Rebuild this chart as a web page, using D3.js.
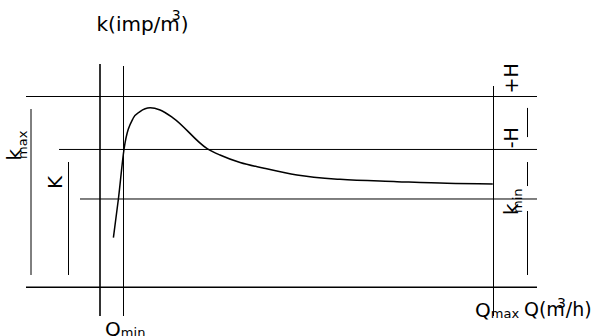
<!DOCTYPE html>
<html>
<head>
<meta charset="utf-8">
<script src="https://cdn.jsdelivr.net/npm/d3@7"></script>
<style>
 html,body{margin:0;padding:0;background:#fff;}
 svg{display:block;font-family:"DejaVu Sans",sans-serif;}
</style>
</head>
<body>
<svg id="chart" width="594" height="336"></svg>
<script>
// meter error curve: factor k against flow Q (schematic, arbitrary units)
const flow   = [0.58, 0.80, 1.04, 1.44, 1.73, 2.17, 2.60, 3.17, 4.62, 5.19, 6.06, 7.05, 8.52, 10.38, 12.85, 15.01, 16.99];
const factor = [0.259, 0.466, 0.724, 0.887, 0.921, 0.941, 0.929, 0.887, 0.728, 0.693, 0.654, 0.625, 0.588, 0.565, 0.553, 0.544, 0.541];

// flow marks on the Q axis
const flowMarks = [{q:0}, {q:1, name:'Q', sub:'min'}, {q:17, name:'Q', sub:'max'}];
// factor levels: kmax, nominal, kmin, zero
const levels = [1, 0.722, 0.462, 0];
const levelNames = ['+H', '-H', 'k', ''];
// tolerance spans drawn at the right edge, in k units
const spans = [[0.787, 0.94], [0.530, 0.656], [0.063, 0.399]];

const svg = d3.select('#chart');
const x = d3.scaleLinear().domain([0, 17]).range([100, 493]);
const y = d3.scaleLinear().domain([0, 1]).range([287, 96.5]);
const crisp = v => Math.round(v - 0.5) + 0.5;
const right = x(17) + 44;

// horizontal levels
const starts = [26, 59, 80, 26];
svg.append('g').selectAll('line').data(levels).join('line')
 .attr('x1', (d, i) => starts[i]).attr('x2', right)
 .attr('y1', d => d ? y(d) : y(d) + 0.2).attr('y2', d => d ? y(d) : y(d) + 0.2)
 .attr('stroke', '#000').attr('stroke-width', d => d ? 1 : 1.6);

// vertical flow lines
const tops = [64, 66, 86];
svg.append('g').selectAll('line').data(flowMarks).join('line')
 .attr('x1', (d, i) => i ? crisp(x(d.q)) : x(d.q)).attr('x2', (d, i) => i ? crisp(x(d.q)) : x(d.q))
 .attr('y1', (d, i) => tops[i]).attr('y2', 316)
 .attr('stroke', '#000').attr('stroke-width', (d, i) => i ? 1 : 1.6);

// left range bars (kmax and K)
svg.append('line').attr('x1', 31).attr('x2', 31).attr('y1', 109).attr('y2', y(0.063))
 .attr('stroke', '#000').attr('stroke-width', 1);
svg.append('line').attr('x1', 68.5).attr('x2', 68.5).attr('y1', 162).attr('y2', y(0.063))
 .attr('stroke', '#000').attr('stroke-width', 1);

// right tolerance dashes
svg.append('g').selectAll('line').data(spans).join('line')
 .attr('x1', 527.5).attr('x2', 527.5)
 .attr('y1', d => y(d[1])).attr('y2', d => y(d[0]))
 .attr('stroke', '#000').attr('stroke-width', 1);

// the curve
const points = flow.map((q, i) => ({q, k: factor[i]}));
svg.append('path').datum(points)
 .attr('d', d3.line().x(d => x(d.q)).y(d => y(d.k)).curve(d3.curveMonotoneX))
 .attr('fill', 'none').attr('stroke', '#000').attr('stroke-width', 1.5);

// axis titles
const title = svg.append('text').attr('x', 96.5).attr('y', 30.5).attr('font-size', 20);
title.append('tspan').text('k(imp/m');
title.append('tspan').attr('font-size', 14).attr('dy', -10.5).attr('dx', -8).text('3');
title.append('tspan').attr('dy', 10.5).text(')');

const qtitle = svg.append('text').attr('x', 524).attr('y', 316).attr('font-size', 19);
qtitle.append('tspan').text('Q(m');
qtitle.append('tspan').attr('font-size', 14).attr('dy', -8).attr('dx', -8).text('3');
qtitle.append('tspan').attr('dy', 8).text('/h)');

// flow mark labels
const qy = [0, 335.5, 317];
svg.append('g').selectAll('text').data(flowMarks.filter(d => d.name)).join('text')
 .attr('x', d => x(d.q) - 18).attr('y', (d, i) => qy[i + 1]).attr('font-size', 20)
 .each(function (d) {
  const t = d3.select(this);
  t.append('tspan').text(d.name);
  t.append('tspan').attr('font-size', 13).attr('dy', 1).text(d.sub);
 });

// rotated labels
const rotated = (px, py, txt, size) => svg.append('text')
 .attr('transform', `translate(${px},${py}) rotate(-90)`).attr('font-size', size).text(txt);
rotated(20.7, 160.5, 'k', 20);
rotated(26.5, 159, 'max', 13);
rotated(61.5, 189, 'K', 20);
rotated(517.5, 93.4, levelNames[0], 19);
rotated(517.5, 148.3, levelNames[1], 19);
rotated(517.5, 215, levelNames[2], 20);
rotated(521.5, 213, 'min', 13);
</script>
</body>
</html>
